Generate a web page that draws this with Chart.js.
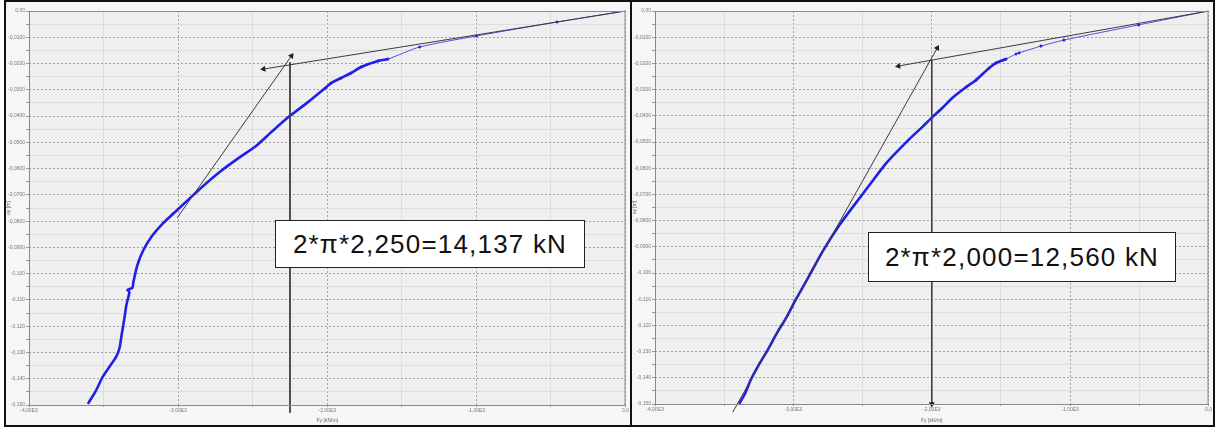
<!DOCTYPE html>
<html>
<head>
<meta charset="utf-8">
<script src="https://cdn.jsdelivr.net/npm/chart.js@4.4.1/dist/chart.umd.min.js"></script>
<style>
  body { margin:0; background:#fff; width:1215px; height:429px; overflow:hidden; font-family:"Liberation Sans", Arial, sans-serif; }
  .panel { position:absolute; top:0; height:423px; border:2px solid #111; background:#f6f6f6; }
  #panelA { left:4px; width:624px; }
  #panelB { left:630px; width:581px; }
  .panel canvas { position:absolute; left:0; top:0; }
  .note { position:absolute; background:#fff; border:1px solid #222; display:flex; align-items:center; justify-content:center; font-size:26px; letter-spacing:1.2px; color:#111; white-space:nowrap; }
  #noteA { left:275px; top:220px; width:308px; height:46px; }
  #noteB { left:868px; top:232px; width:306px; height:48px; }
</style>
</head>
<body>
<div class="panel" id="panelA"><canvas id="chartA" width="624" height="423"></canvas></div>
<div class="panel" id="panelB"><canvas id="chartB" width="581" height="423"></canvas></div>
<div class="note" id="noteA">2*π*2,250=14,137 kN</div>
<div class="note" id="noteB">2*π*2,000=12,560 kN</div>
<script>
// axis ticks (major ones carry a label, the 500 / 0.005 steps in between are unlabelled)
const xTickValues = [-4000, -3000, -2000, -1000, 0];
const xTickLabels = ['-4,00E3', '-3,00E3', '-2,00E3', '-1,00E3', '0,0'];
const yTickValues = [0, -0.01, -0.02, -0.03, -0.04, -0.05, -0.06, -0.07, -0.08, -0.09, -0.10, -0.11, -0.12, -0.13, -0.14, -0.15];
const yTickLabels = ['0,00', '-0,0100', '-0,0200', '-0,0300', '-0,0400', '-0,0500', '-0,0600', '-0,0700', '-0,0800', '-0,0900',
                     '-0,100', '-0,110', '-0,120', '-0,130', '-0,140', '-0,150'];

// panel A: load F [kN/m] vs displacement u [m]
const loadA = [-3605, -3549, -3505, -3460, -3415, -3393, -3380, -3360, -3347, -3327, -3340, -3307, -3300, -3273, -3233, -3180,
               -3113, -3030, -2935, -2830, -2715, -2600, -2480, -2373, -2260, -2127, -2013, -1973, -1907, -1840, -1773, -1660,
               -1593, -1380, -1000, -460, 0];
const dispA = [-0.1496, -0.1443, -0.1392, -0.1354, -0.1316, -0.1283, -0.1237, -0.1169, -0.1119, -0.1070, -0.1062, -0.1054, -0.1032,
               -0.0967, -0.0910, -0.0860, -0.0815, -0.0770, -0.0720, -0.0665, -0.0610, -0.0562, -0.0515, -0.0460, -0.0404, -0.0346,
               -0.0293, -0.0274, -0.0255, -0.0236, -0.0213, -0.0190, -0.0183, -0.0137, -0.0095, -0.0042, 0];
const steepLoadA = [-3007, -2240];
const steepDispA = [-0.0788, -0.0171];
const flatLoadA = [0, -2427];
const flatDispA = [0, -0.0221];
const limitLoadA = [-2250, -2250];
const limitDispA = [-0.0195, -0.153];

// panel B
const loadB = [-3392, -3351, -3308, -3250, -3186, -3114, -3049, -2984, -2883, -2782, -2667, -2559, -2450, -2321, -2162, -2069,
               -1996, -1924, -1852, -1751, -1679, -1586, -1535, -1463, -1391, -1369, -1211, -1045, -505, 0];
const dispB = [-0.1500, -0.1462, -0.1408, -0.1351, -0.1294, -0.1225, -0.1168, -0.1103, -0.1008, -0.0912, -0.0817, -0.0740, -0.0664,
               -0.0576, -0.0489, -0.0443, -0.0405, -0.0370, -0.0332, -0.0290, -0.0263, -0.0218, -0.0198, -0.0183, -0.0164, -0.0160,
               -0.0134, -0.0111, -0.0053, 0];
const steepLoadB = [-3438, -1960];
const steepDispB = [-0.1531, -0.0141];
const flatLoadB = [0, -2241];
const flatDispB = [0, -0.0210];
const limitLoadB = [-2000, -2000];
const limitDispB = [-0.0187, -0.1500];

const pts = (xs, ys) => xs.map((x, i) => ({ x, y: ys[i] }));
const isMajorX = v => Math.round(v) % 1000 === 0;
const isMajorY = v => Math.round(v * 1000) % 10 === 0;

// light plot background plus a solid frame round the plot area
const plotFrame = {
  id: 'plotFrame',
  beforeDraw(chart) {
    const { ctx, chartArea: a } = chart;
    ctx.save();
    ctx.fillStyle = '#efefef';
    ctx.fillRect(a.left, a.top, a.right - a.left, a.bottom - a.top);
    ctx.restore();
  },
  afterDatasetsDraw(chart) {
    const { ctx, chartArea: a } = chart;
    ctx.save();
    ctx.strokeStyle = '#8a8a8a';
    ctx.lineWidth = 1;
    ctx.strokeRect(a.left + 0.5, a.top + 0.5, a.right - a.left - 1, a.bottom - a.top);
    ctx.restore();
  }
};

function guide(xs, ys, rot) {
  return {
    data: pts(xs, ys), showLine: true, clip: false,
    borderColor: '#3c3c3c', borderWidth: 1,
    pointStyle: 'triangle', pointRadius: [0, 3.5], pointRotation: [0, rot],
    pointBackgroundColor: '#222', pointBorderColor: '#222', pointBorderWidth: 0
  };
}

function makePanel(id, load, disp, guides, padRight, xHeight) {
  return new Chart(document.getElementById(id), {
    type: 'scatter',
    data: {
      datasets: [
        ...guides,
        {
          data: pts(load, disp), showLine: true, tension: 0.25,
          borderColor: '#1f1fe6', backgroundColor: '#1f1fe6',
          borderWidth: 2.6,
          segment: { borderWidth: c => c.p0.parsed.y > -0.019 ? 1 : 2.6, borderColor: c => c.p0.parsed.y > -0.019 ? '#5252e0' : '#1f1fe6' },
          pointStyle: 'rectRot',
          pointRadius: c => (c.raw && c.raw.y > -0.03 && c.raw.y < 0) ? 1.8 : 0,
          pointBorderWidth: 0
        }
      ]
    },
    options: {
      responsive: false, animation: false, devicePixelRatio: 1,
      layout: { padding: { top: 9, right: padRight, left: 0, bottom: 0 } },
      plugins: { legend: { display: false }, tooltip: { enabled: false } },
      scales: {
        x: {
          type: 'linear', min: -4000, max: 0,
          afterFit: s => { s.height = xHeight; },
          ticks: {
            stepSize: 500, autoSkip: false, maxRotation: 0, padding: 1,
            font: { size: 5, family: 'Liberation Sans' }, color: '#777',
            callback: v => { const i = xTickValues.indexOf(Math.round(v)); return i >= 0 ? xTickLabels[i] : ''; }
          },
          grid: {
            color: c => isMajorX(c.tick.value) ? '#a0a0a0' : '#dddddd', lineWidth: 1,
            tickLength: 2, tickColor: '#999'
          },
          border: { display: false, dash: c => isMajorX(c.tick.value) ? [2, 2] : [] },
          title: { display: true, text: 'Fy [kN/m]', font: { size: 5, family: 'Liberation Sans' }, color: '#666', padding: { top: 0, bottom: 1 } }
        },
        y: {
          type: 'linear', min: -0.15, max: 0,
          afterFit: s => { s.width = 23; },
          ticks: {
            stepSize: 0.005, autoSkip: false, padding: 1,
            font: { size: 5, family: 'Liberation Sans' }, color: '#777',
            callback: v => { const i = yTickValues.findIndex(t => Math.abs(t - v) < 1e-6); return i >= 0 ? yTickLabels[i] : ''; }
          },
          grid: {
            color: c => isMajorY(c.tick.value) ? '#a0a0a0' : '#dddddd', lineWidth: 1,
            tickLength: 3, tickColor: '#999'
          },
          border: { display: false, dash: c => isMajorY(c.tick.value) ? [2, 2] : [] },
          title: { display: true, text: 'uy [m]', font: { size: 5, family: 'Liberation Sans' }, color: '#666', padding: 0 }
        }
      }
    },
    plugins: [plotFrame]
  });
}

makePanel('chartA', loadA, dispA, [
  guide(steepLoadA, steepDispA, 35),
  guide(flatLoadA, flatDispA, -99),
  guide(limitLoadA, limitDispA, 180)
], 1, 20);

makePanel('chartB', loadB, dispB, [
  guide(steepLoadB, steepDispB, 29),
  guide(flatLoadB, flatDispB, -100),
  guide(limitLoadB, limitDispB, 180)
], 3, 21);
</script>
</body>
</html>
